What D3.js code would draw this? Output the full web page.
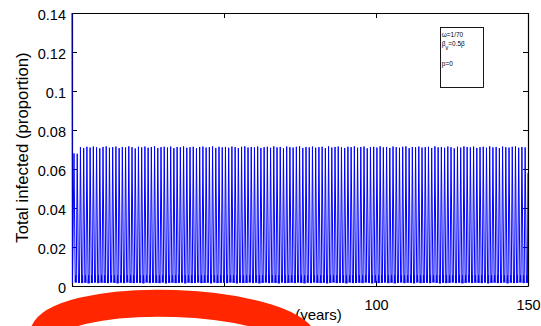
<!DOCTYPE html>
<html>
<head>
<meta charset="utf-8">
<script src="https://cdn.jsdelivr.net/npm/d3@7"></script>
<style>
    body { margin: 0; background: #fff; }
    svg { display: block; font-family: "Liberation Sans", Arial, Helvetica, sans-serif; }
</style>
</head>
<body>
<svg id="chart" width="541" height="326"></svg>
<script>
// ---- data ----
const xTicks = [0, 50, 100, 150];
const yTicks = [0, 0.02, 0.04, 0.06, 0.08, 0.1, 0.12, 0.14];
const yTickLabels = ["0", "0.02", "0.04", "0.06", "0.08", "0.1", "0.12", "0.14"];

const seriesStart = [[0, 0.14], [0.15, 0.0016]];
const seriesEnd = [[150, 0.058]];
const shoulderValue = 0.0055;

const peakYears = [
    0.66, 1.72, 2.78, 3.84, 4.90, 5.96, 7.02, 8.08, 9.14, 10.20,
    11.26, 12.32, 13.38, 14.44, 15.50, 16.56, 17.62, 18.68, 19.74, 20.80,
    21.86, 22.92, 23.98, 25.04, 26.10, 27.16, 28.22, 29.28, 30.34, 31.40,
    32.46, 33.52, 34.58, 35.64, 36.70, 37.76, 38.82, 39.88, 40.94, 42.00,
    43.06, 44.12, 45.18, 46.24, 47.30, 48.36, 49.42, 50.48, 51.54, 52.60,
    53.66, 54.72, 55.78, 56.84, 57.90, 58.96, 60.02, 61.08, 62.14, 63.20,
    64.26, 65.32, 66.38, 67.44, 68.50, 69.56, 70.62, 71.68, 72.74, 73.80,
    74.86, 75.92, 76.98, 78.04, 79.10, 80.16, 81.22, 82.28, 83.34, 84.40,
    85.46, 86.52, 87.58, 88.64, 89.70, 90.76, 91.82, 92.88, 93.94, 95.00,
    96.06, 97.12, 98.18, 99.24, 100.30, 101.36, 102.42, 103.48, 104.54, 105.60,
    106.66, 107.72, 108.78, 109.84, 110.90, 111.96, 113.02, 114.08, 115.14, 116.20,
    117.26, 118.32, 119.38, 120.44, 121.50, 122.56, 123.62, 124.68, 125.74, 126.80,
    127.86, 128.92, 129.98, 131.04, 132.10, 133.16, 134.22, 135.28, 136.34, 137.40,
    138.46, 139.52, 140.58, 141.64, 142.70, 143.76, 144.82, 145.88, 146.94, 148.00,
    149.06
];

const peakValues = [
    0.0680, 0.0678, 0.0712, 0.0708, 0.0714, 0.0710, 0.0715, 0.0711, 0.0706, 0.0713,
    0.0716, 0.0709, 0.0712, 0.0715, 0.0707, 0.0713, 0.0710, 0.0716, 0.0712, 0.0705,
    0.0714, 0.0711, 0.0715, 0.0709, 0.0713, 0.0716, 0.0708, 0.0712, 0.0714, 0.0710,
    0.0715, 0.0707, 0.0713, 0.0711, 0.0716, 0.0709, 0.0712, 0.0714, 0.0706, 0.0713,
    0.0715, 0.0710, 0.0712, 0.0716, 0.0708, 0.0714, 0.0711, 0.0713, 0.0709, 0.0715,
    0.0712, 0.0707, 0.0714, 0.0716, 0.0710, 0.0713, 0.0711, 0.0715, 0.0708, 0.0712,
    0.0714, 0.0709, 0.0716, 0.0711, 0.0713, 0.0706, 0.0715, 0.0712, 0.0710, 0.0714,
    0.0716, 0.0708, 0.0713, 0.0711, 0.0715, 0.0709, 0.0712, 0.0714, 0.0707, 0.0716,
    0.0710, 0.0713, 0.0715, 0.0711, 0.0708, 0.0714, 0.0712, 0.0716, 0.0709, 0.0713,
    0.0715, 0.0706, 0.0712, 0.0714, 0.0710, 0.0716, 0.0711, 0.0713, 0.0708, 0.0715,
    0.0712, 0.0709, 0.0714, 0.0716, 0.0707, 0.0713, 0.0711, 0.0715, 0.0710, 0.0712,
    0.0714, 0.0708, 0.0716, 0.0711, 0.0713, 0.0709, 0.0715, 0.0712, 0.0706, 0.0714,
    0.0710, 0.0716, 0.0713, 0.0711, 0.0715, 0.0708, 0.0712, 0.0714, 0.0709, 0.0716,
    0.0711, 0.0713, 0.0707, 0.0715, 0.0712, 0.0710, 0.0714, 0.0716, 0.0709, 0.0713,
    0.0711
];

const troughValues = [
    0.0018, 0.0016, 0.0015, 0.0017, 0.0014, 0.0016, 0.0018, 0.0015, 0.0017, 0.0016,
    0.0015, 0.0018, 0.0016, 0.0014, 0.0017, 0.0015, 0.0018, 0.0016, 0.0015, 0.0017,
    0.0016, 0.0014, 0.0018, 0.0015, 0.0017, 0.0016, 0.0015, 0.0018, 0.0014, 0.0016,
    0.0017, 0.0015, 0.0016, 0.0018, 0.0014, 0.0017, 0.0015, 0.0016, 0.0018, 0.0015,
    0.0016, 0.0017, 0.0014, 0.0018, 0.0015, 0.0016, 0.0017, 0.0015, 0.0018, 0.0016,
    0.0014, 0.0017, 0.0015, 0.0016, 0.0018, 0.0015, 0.0017, 0.0014, 0.0016, 0.0018,
    0.0015, 0.0017, 0.0016, 0.0014, 0.0018, 0.0015, 0.0016, 0.0017, 0.0015, 0.0018,
    0.0016, 0.0014, 0.0017, 0.0015, 0.0018, 0.0016, 0.0015, 0.0017, 0.0014, 0.0016,
    0.0018, 0.0015, 0.0017, 0.0016, 0.0014, 0.0018, 0.0015, 0.0016, 0.0017, 0.0015,
    0.0018, 0.0016, 0.0014, 0.0017, 0.0015, 0.0016, 0.0018, 0.0015, 0.0017, 0.0014,
    0.0016, 0.0018, 0.0015, 0.0017, 0.0016, 0.0014, 0.0018, 0.0015, 0.0016, 0.0017,
    0.0015, 0.0018, 0.0016, 0.0014, 0.0017, 0.0015, 0.0016, 0.0018, 0.0015, 0.0017,
    0.0014, 0.0016, 0.0018, 0.0015, 0.0017, 0.0016, 0.0015, 0.0018, 0.0014, 0.0016,
    0.0017, 0.0015, 0.0016, 0.0018, 0.0014, 0.0017, 0.0015, 0.0016, 0.0018, 0.0015,
    0.0016
];

const xLabel = "Time (years)";
const yLabel = "Total infected (proportion)";
const legendOmega = "ω=1/70";
const legendBeta = ["β", "v", "=0.5β"];
const legendP = "p=0";

// ---- layout ----
const plot = { left: 72, right: 528, top: 13, bottom: 286 };
const tickLen = 5;

const svg = d3.select("#chart");

const x = d3.scaleLinear().domain([0, 150]).range([plot.left, plot.right]);
const y = d3.scaleLinear().domain([0, 0.14]).range([plot.bottom, plot.top]);

// series vertices: each cycle = peak, trough, small shoulder, trough
const points = [...seriesStart];
peakYears.forEach((t, i) => {
    points.push([t, peakValues[i]]);
    points.push([t + 0.40, troughValues[i]]);
    points.push([t + 0.58, shoulderValue]);
    points.push([t + 0.74, troughValues[i]]);
});
points.push(...seriesEnd);

svg.append("defs").append("clipPath")
    .attr("id", "plot-clip")
    .append("rect")
        .attr("x", plot.left - 1.5)
        .attr("y", plot.top - 1)
        .attr("width", plot.right - plot.left + 1.5)
        .attr("height", plot.bottom - plot.top + 1);

// frame + inward ticks on all four sides
const bottomAxis = svg.append("g")
    .attr("transform", `translate(0,${plot.bottom})`)
    .call(d3.axisBottom(x).tickValues(xTicks).tickSizeInner(-tickLen).tickSizeOuter(0).tickPadding(14));
const topAxis = svg.append("g")
    .attr("transform", `translate(0,${plot.top})`)
    .call(d3.axisTop(x).tickValues(xTicks).tickSizeInner(-tickLen).tickSizeOuter(0).tickFormat(""));
const leftAxis = svg.append("g")
    .attr("transform", `translate(${plot.left},0)`)
    .call(d3.axisLeft(y).tickValues(yTicks).tickSizeInner(-tickLen).tickSizeOuter(0).tickPadding(6)
        .tickFormat((d, i) => yTickLabels[i]));
const rightAxis = svg.append("g")
    .attr("transform", `translate(${plot.right},0)`)
    .call(d3.axisRight(y).tickValues(yTicks).tickSizeInner(-tickLen).tickSizeOuter(0).tickFormat(""));

[bottomAxis, topAxis, leftAxis, rightAxis].forEach(g => {
    g.select(".domain").attr("stroke", "#000").attr("stroke-width", 1.2);
    g.selectAll(".tick line").attr("stroke", "#000");
    g.selectAll("text")
        .attr("fill", "#000")
        .style("font-family", "\"Liberation Sans\", Arial, Helvetica, sans-serif")
        .style("font-size", "14.5px");
});
bottomAxis.selectAll("text").attr("dy", "0.71em");
leftAxis.selectAll("text").attr("dy", "6.5px");

// the blue series is drawn over the left axis, as in the original
svg.append("path")
    .datum(points)
    .attr("clip-path", "url(#plot-clip)")
    .attr("fill", "none")
    .attr("stroke", "#0000ff")
    .attr("stroke-width", 1)
    .attr("d", d3.line().x(d => x(d[0])).y(d => y(d[1])));

// axis labels
svg.append("text")
    .attr("x", (plot.left + plot.right) / 2)
    .attr("y", 320)
    .attr("text-anchor", "middle")
    .style("font-size", "15px")
    .text(xLabel);

svg.append("text")
    .attr("transform", `translate(28,${(plot.top + plot.bottom) / 2 - 2}) rotate(-90)`)
    .attr("text-anchor", "middle")
    .style("font-size", "16.8px")
    .text(yLabel);

// parameter box
svg.append("rect")
    .attr("x", 440.5)
    .attr("y", 27.5)
    .attr("width", 43)
    .attr("height", 60)
    .attr("fill", "#fff")
    .attr("stroke", "#000")
    .attr("stroke-width", 0.9);

const legend = svg.append("g")
    .attr("transform", "translate(441.8,0) scale(0.85,1)")
    .style("font-size", "7.6px");

legend.append("text").attr("y", 36.8).text(legendOmega);
const betaLine = legend.append("text").attr("y", 45.6);
betaLine.append("tspan").text(legendBeta[0]);
betaLine.append("tspan").attr("dy", 4.8).style("font-size", "6.5px").text(legendBeta[1]);
betaLine.append("tspan").attr("dy", -4.8).text(legendBeta[2]);
legend.append("text").attr("y", 65.6).text(legendP);

// red hand-drawn ring over the bottom of the figure
svg.append("ellipse")
    .attr("cx", 174)
    .attr("cy", 340)
    .attr("rx", 131)
    .attr("ry", 36.5)
    .attr("transform", "rotate(2 174 340)")
    .attr("fill", "none")
    .attr("stroke", "#ff2600")
    .attr("stroke-width", 27);
</script>
</body>
</html>
